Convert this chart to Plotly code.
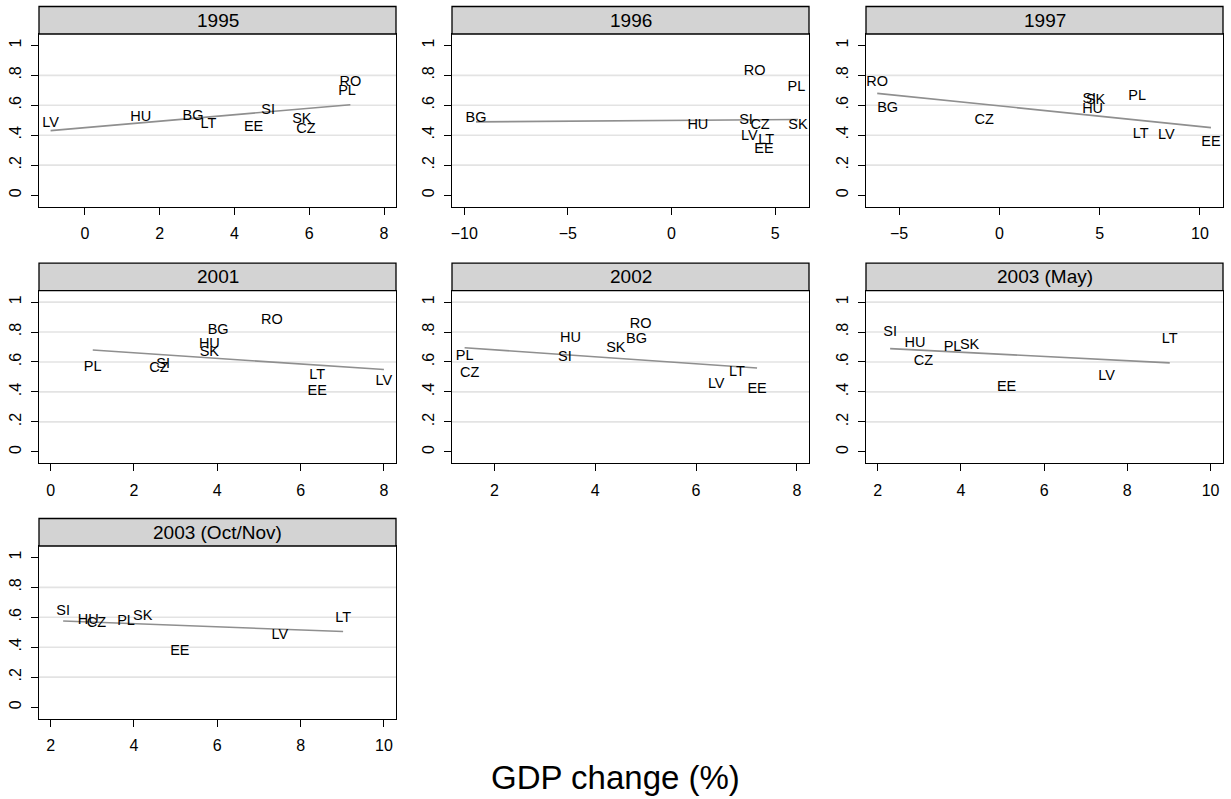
import numpy as np
import plotly.graph_objects as go

# Country codes, GDP change (%) and score per survey wave
countries_1995 = ["LV", "HU", "BG", "LT", "EE", "SI", "SK", "CZ", "PL", "RO"]
gdp_1995 = [-0.92, 1.49, 2.89, 3.30, 4.51, 4.90, 5.80, 5.91, 7.01, 7.10]
score_1995 = [0.482, 0.516, 0.527, 0.471, 0.453, 0.567, 0.504, 0.442, 0.693, 0.756]

countries_1996 = ["BG", "HU", "SI", "CZ", "LV", "LT", "EE", "RO", "PL", "SK"]
gdp_1996 = [-9.43, 1.27, 3.59, 4.27, 3.75, 4.57, 4.46, 4.01, 6.02, 6.10]
score_1996 = [0.511, 0.467, 0.500, 0.464, 0.393, 0.364, 0.304, 0.827, 0.720, 0.469]

countries_1997 = ["RO", "BG", "CZ", "SI", "SK", "HU", "PL", "LT", "LV", "EE"]
gdp_1997 = [-6.09, -5.57, -0.76, 4.48, 4.80, 4.65, 6.87, 7.05, 8.33, 10.55]
score_1997 = [0.753, 0.578, 0.498, 0.638, 0.633, 0.571, 0.660, 0.404, 0.398, 0.353]

countries_2001 = ["PL", "CZ", "SI", "HU", "SK", "BG", "RO", "LT", "EE", "LV"]
gdp_2001 = [1.01, 2.60, 2.70, 3.81, 3.81, 4.02, 5.31, 6.40, 6.40, 8.00]
score_2001 = [0.567, 0.556, 0.584, 0.716, 0.667, 0.811, 0.878, 0.511, 0.404, 0.471]

countries_2002 = ["PL", "CZ", "HU", "SI", "SK", "BG", "RO", "LV", "LT", "EE"]
gdp_2002 = [1.41, 1.51, 3.51, 3.40, 4.41, 4.82, 4.90, 6.40, 6.81, 7.21]
score_2002 = [0.638, 0.527, 0.756, 0.633, 0.689, 0.751, 0.849, 0.451, 0.533, 0.418]

countries_2003a = ["SI", "HU", "CZ", "PL", "SK", "EE", "LV", "LT"]
gdp_2003a = [2.30, 2.90, 3.10, 3.80, 4.21, 5.10, 7.50, 9.02]
score_2003a = [0.800, 0.727, 0.607, 0.700, 0.711, 0.433, 0.507, 0.751]

countries_2003b = ["SI", "HU", "CZ", "PL", "SK", "EE", "LV", "LT"]
gdp_2003b = [2.30, 2.90, 3.10, 3.81, 4.21, 5.10, 7.50, 9.02]
score_2003b = [0.638, 0.582, 0.556, 0.571, 0.609, 0.371, 0.478, 0.593]

panel_titles = ["1995", "1996", "1997", "2001", "2002", "2003 (May)", "2003 (Oct/Nov)"]

x_ranges = [[-1.23, 8.32], [-10.59, 6.63], [-6.65, 11.15], [-0.28, 8.29],
            [1.16, 8.24], [1.72, 10.3], [1.72, 10.29]]
x_ticks = [[0, 2, 4, 6, 8], [-10, -5, 0, 5], [-5, 0, 5, 10], [0, 2, 4, 6, 8],
           [2, 4, 6, 8], [2, 4, 6, 8, 10], [2, 4, 6, 8, 10]]
y_tickvals = [0, 0.2, 0.4, 0.6, 0.8, 1]
y_ticktext = ["0", ".2", ".4", ".6", ".8", "1"]

panels = [
    (countries_1995, gdp_1995, score_1995),
    (countries_1996, gdp_1996, score_1996),
    (countries_1997, gdp_1997, score_1997),
    (countries_2001, gdp_2001, score_2001),
    (countries_2002, gdp_2002, score_2002),
    (countries_2003a, gdp_2003a, score_2003a),
    (countries_2003b, gdp_2003b, score_2003b),
]

W, H = 1231, 799
FONT = "Arial, 'Liberation Sans', sans-serif"

# grid geometry in pixels
col_left = [39, 452, 866]
col_width = 357
row_top = [34, 290.7, 546]
row_height = 172.5
header_h = 27.5

fig = go.Figure()
layout = dict(
    width=W, height=H,
    margin=dict(l=0, r=0, t=0, b=0),
    paper_bgcolor="white", plot_bgcolor="white",
    showlegend=False,
    font=dict(family=FONT, color="black"),
)
shapes = []
annotations = []

for i, (names, gx, gy) in enumerate(panels):
    n = i + 1
    sfx = "" if n == 1 else str(n)
    row, col = divmod(i, 3)
    x0 = col_left[col] / W
    x1 = (col_left[col] + col_width) / W
    y1 = 1 - row_top[row] / H
    y0 = 1 - (row_top[row] + row_height) / H

    xa = "x" + sfx
    ya = "y" + sfx

    # least-squares fit line over the observed GDP range
    gx_arr = np.array(gx)
    gy_arr = np.array(gy)
    slope, intercept = np.polyfit(gx_arr, gy_arr, 1)
    fx = np.array([gx_arr.min(), gx_arr.max()])
    fig.add_trace(go.Scatter(
        x=fx, y=intercept + slope * fx, mode="lines",
        line=dict(color="#8f8f8f", width=1.6),
        xaxis=xa, yaxis=ya, hoverinfo="skip",
    ))
    fig.add_trace(go.Scatter(
        x=gx, y=gy, mode="text", text=names,
        textposition="middle center",
        textfont=dict(family=FONT, size=14.5, color="black"),
        xaxis=xa, yaxis=ya, cliponaxis=False,
    ))

    layout["xaxis" + sfx] = dict(
        domain=[x0, x1], anchor=ya, range=x_ranges[i],
        tickvals=x_ticks[i], ticks="outside", ticklen=7, tickwidth=1,
        tickcolor="black", showgrid=False, zeroline=False,
        showline=True, mirror=True, linecolor="black", linewidth=1.4,
        tickfont=dict(size=16, family=FONT), ticklabelstandoff=5,
    )
    layout["yaxis" + sfx] = dict(
        domain=[y0, y1], anchor=xa, range=[-0.076, 1.076],
        tickvals=y_tickvals, ticktext=y_ticktext, tickangle=-90,
        ticks="outside", ticklen=7, tickwidth=1, tickcolor="black",
        showgrid=False, zeroline=False,
        showline=True, mirror=True, linecolor="black", linewidth=1.4,
        tickfont=dict(size=16, family=FONT), ticklabelstandoff=3,
    )

    # horizontal reference lines
    grid_levels = [0.2, 0.4, 0.6, 0.8] + ([1.0] if row == 1 else [])
    for gl in grid_levels:
        shapes.append(dict(
            type="line", xref=xa + " domain", yref=ya,
            x0=0, x1=1, y0=gl, y1=gl, layer="below",
            line=dict(color="#e3e3e3", width=1.6),
        ))

    # panel header strip
    hy = 1 + header_h / row_height
    shapes.append(dict(
        type="rect", xref=xa + " domain", yref=ya + " domain",
        x0=0, x1=1, y0=1, y1=hy, fillcolor="#d3d3d3",
        line=dict(color="black", width=1.3), layer="above",
    ))
    annotations.append(dict(
        xref=xa + " domain", yref=ya + " domain",
        x=0.5, y=(1 + hy) / 2, text=panel_titles[i], showarrow=False,
        xanchor="center", yanchor="middle",
        font=dict(size=19, family=FONT, color="black"),
    ))

annotations.append(dict(
    xref="paper", yref="paper", x=0.5, y=1 - 777 / H,
    text="GDP change (%)", showarrow=False,
    xanchor="center", yanchor="middle",
    font=dict(size=33, family=FONT, color="black"),
))

layout["shapes"] = shapes
layout["annotations"] = annotations
fig.update_layout(**layout)
fig.write_html("out.html")
